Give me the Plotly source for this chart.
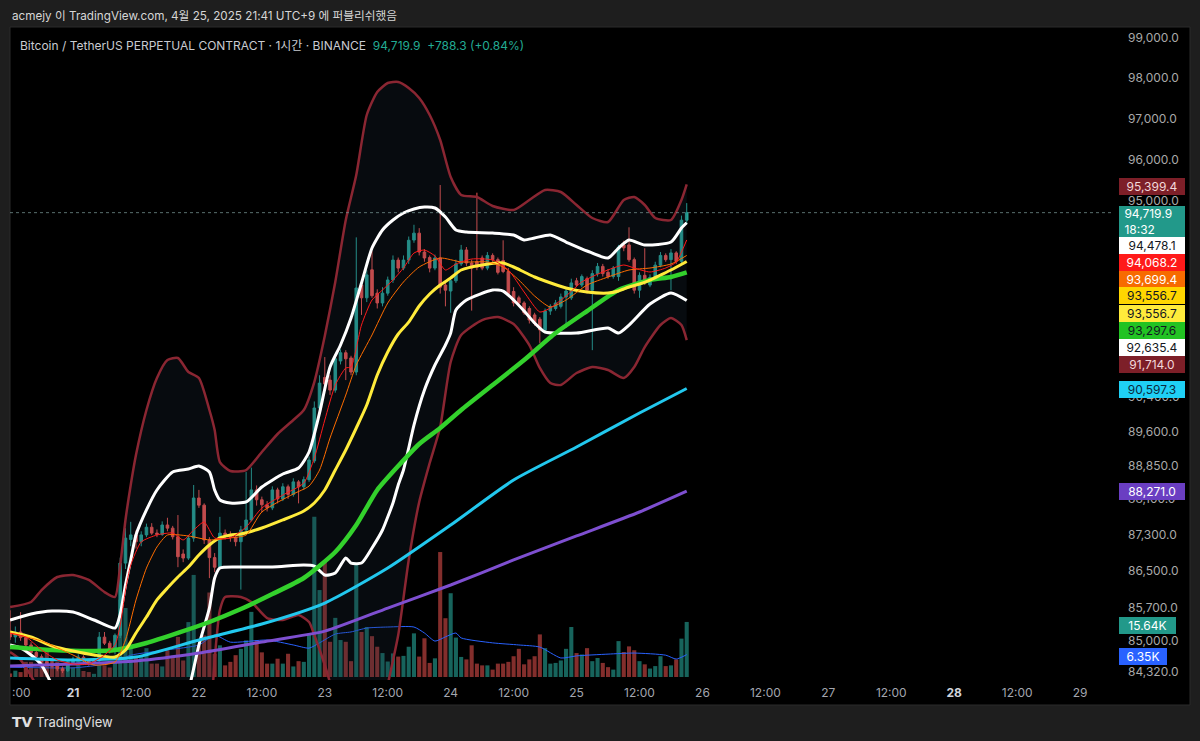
import math
import pandas as pd
import plotly.graph_objects as go

# ---------------- data ----------------
START = "2025-04-20 12:00"          # first visible hourly candle
BASE = pd.Timestamp("2025-04-21 00:00")  # hour offsets of indicator samples are relative to this

OPEN = [85180, 85075, 85180, 85060, 84900, 84740, 84650, 84540, 84500, 84450, 84390, 84350, 84520, 84600, 84640, 84560, 84500, 84560, 85070, 84940, 84760,
        85110, 86680, 87200, 87300, 87150, 87300, 87470, 87340, 87310, 87520, 87450, 87260, 86880, 86790, 87230, 88120, 87960, 87190, 86800, 86590, 87340,
        87300, 87250, 87150, 87410, 87630, 88300, 88080, 87970, 87900, 88300, 88100, 88370, 88200, 88480, 88370, 88530,
        88950, 90150, 90850, 90790, 90560, 91230, 91420, 91300, 90975, 93000, 92700, 93360, 92810, 92580, 92810, 93120, 93590, 93400, 93590, 94066,
        94230, 93780, 93650, 93400, 93640, 93000, 92860, 93100, 93500, 93830, 93520, 93550, 93640, 93400, 93700, 93600, 93580, 93320, 92850, 92700,
        92580, 92450, 92300, 92200, 91950, 92390, 92450, 92500, 92720, 92700, 93100, 93000, 93150, 92880, 93270, 93440, 93300, 93200, 93200, 93950,
        93950, 93600, 92880, 93230, 93000, 93180, 93470, 93700, 93600, 93760, 93560, 94540]
HIGH = [85650, 85300, 85610, 85130, 84960, 84800, 84700, 84600, 84560, 84500, 84440, 84560, 84650, 84700, 84680, 84600, 84600, 85180, 85180, 84990, 85150,
        86800, 87450, 87590, 87400, 87380, 87550, 87560, 87420, 87600, 87680, 87500, 87740, 86980, 87300, 88410, 88300, 88000, 87250, 86900, 87700, 87420,
        87380, 87300, 87500, 88700, 88800, 88400, 88150, 88050, 88380, 88350, 88450, 88420, 88560, 88520, 88600, 89050,
        90300, 90900, 91320, 90900, 91350, 91500, 91480, 91350, 94130, 93100, 93350, 93800, 92900, 92950, 93200, 93700, 93650, 93700, 94150, 94430,
        94350, 93850, 93700, 93720, 95385, 93100, 93200, 93600, 93950, 93900, 93600, 95200, 93700, 93780, 93750, 93650, 94060, 93400, 92950, 92750,
        92620, 92500, 92350, 92250, 92450, 92550, 92650, 92800, 92950, 93150, 93170, 93250, 93200, 93350, 93520, 93500, 93380, 93450, 93950, 94050,
        94370, 93650, 93300, 93870, 93250, 93550, 93780, 93750, 93850, 93800, 94650, 94950]
LOW = [85010, 84950, 84990, 84860, 84700, 84600, 84480, 84460, 84400, 84340, 84300, 84320, 84480, 84550, 84520, 84460, 84470, 84540, 84900, 84720, 84700,
       85050, 86550, 87050, 87000, 87050, 87250, 87300, 87250, 87280, 87380, 87200, 86590, 86700, 86750, 87150, 87900, 87100, 86350, 86480, 86550, 87200,
       87150, 87050, 86100, 87350, 87600, 87950, 87800, 87820, 87850, 88000, 88050, 88100, 88150, 88000, 88300, 88480,
       88900, 90050, 90600, 90450, 90500, 91150, 90790, 90900, 90900, 92300, 92600, 92700, 92450, 92500, 92750, 93050, 93300, 93350, 93500, 94000,
       93700, 93550, 93300, 93350, 92800, 92500, 92350, 93050, 93450, 93450, 92400, 93350, 93350, 93350, 93550, 93250, 93280, 92750, 92500, 92500,
       92300, 92100, 92050, 91640, 91900, 92300, 92400, 92450, 92000, 92650, 92950, 92950, 92800, 91480, 93200, 93200, 93150, 93150, 93100, 93800,
       93550, 92800, 92700, 93000, 92950, 93150, 93420, 93550, 92880, 93500, 93500, 94450]
CLOSE = [85075, 85180, 85060, 84900, 84740, 84650, 84540, 84500, 84450, 84390, 84350, 84520, 84600, 84640, 84560, 84500, 84560, 85070, 84940, 84760, 85110,
         86680, 87230, 87300, 87150, 87300, 87470, 87340, 87310, 87520, 87450, 87260, 86820, 86790, 87230, 88120, 87960, 87190, 86800, 86590, 87340, 87300,
         87250, 87150, 87410, 87630, 88300, 88080, 87970, 87900, 88300, 88100, 88370, 88200, 88480, 88370, 88530, 88970,
         90150, 90720, 90700, 90560, 91280, 91420, 91280, 90975, 92930, 92700, 93240, 92750, 92580, 92810, 93120, 93590, 93400, 93590, 94060, 94230,
         93780, 93640, 93400, 93640, 92950, 92880, 93100, 93500, 93830, 93520, 93400, 93420, 93400, 93700, 93600, 93300, 93320, 92800, 92580, 92580,
         92350, 92180, 92100, 91950, 92390, 92500, 92580, 92720, 92860, 93050, 93000, 93200, 92880, 93270, 93440, 93270, 93200, 93400, 93900, 93880,
         93600, 92880, 93230, 93050, 93180, 93470, 93700, 93600, 93760, 93560, 94540, 94719.9]
VOLUME_K = [1.0, 1.8, 1.4, 4.3, 4.3, 2.4, 4.7, 7.6, 4.9, 4.3, 2.7, 4.7, 2.7, 4.7, 1.7, 1.4, 0.9, 3.3, 3.3, 2.7, 4.0,
            22.0, 19.6, 9.0, 5.4, 5.7, 8.2, 3.8, 3.8, 3.0, 7.6, 5.7, 11.4, 4.7, 15.6, 29.0, 9.0, 11.8, 24.0, 6.6, 9.0, 3.3,
            4.3, 6.2, 8.0, 10.4, 18.5, 10.4, 7.0, 3.8, 3.8, 5.2, 3.8, 6.6, 3.0, 4.5, 4.3, 12.3,
            45.5, 24.7, 32.7, 10.0, 16.8, 10.5, 10.0, 4.5, 32.4, 12.8, 14.2, 11.6, 8.6, 6.8, 4.4, 6.7, 5.8, 6.0, 8.6, 12.4,
            5.8, 11.0, 4.0, 5.3, 35.5, 16.7, 23.8, 11.2,
            5.7, 5.0, 9.0, 3.8, 3.3, 3.3, 2.1, 3.8, 3.8, 4.3, 5.9, 8.0, 3.6, 5.0, 5.9, 12.1, 8.2, 3.8, 4.0, 4.7, 8.0, 14.2,
            6.8, 6.4, 8.2, 4.5, 5.4, 4.0, 2.8, 2.1, 10.2, 7.1, 8.7, 7.6, 4.5, 3.6, 2.4, 3.1, 5.9, 3.1, 3.3, 5.0, 10.9, 15.64]

# volume moving average (K)
VMA_H = [-12, 0, 5, 8, 11, 18, 24, 27, 30, 37, 42, 45, 47, 50, 53, 56, 60, 65, 67, 69, 71, 73, 74, 80, 85, 89, 93, 96, 102, 107, 113, 115, 117]
VMA = [2.8, 2.6, 3.4, 4.3, 6.2, 7.7, 9.1, 11.9, 9.9, 10.5, 9.1, 8.2, 9.7, 12.2, 12.8, 13.9, 14.2, 14.2, 12.5, 10.2, 11.4, 12.5, 11.1, 9.7, 9.1, 8.5, 5.4, 6.0, 6.5, 6.8, 6.2, 5.1, 6.35]

# outer Bollinger band (dark red)
UP3_H = [-12, -8, -6, -3, 0, 3, 6, 8, 9, 10, 11, 12, 14, 16, 18, 20, 22, 24, 26, 27, 28, 30, 33, 36, 39, 42, 44, 46, 48, 50,
         52, 54, 56, 58, 60, 62, 64, 66, 68, 70, 72, 74, 77, 80, 84, 87, 90, 93, 96, 99, 102, 105, 107, 109, 111, 114, 116, 117]
UP3 = [85720, 85830, 86090, 86375, 86419, 86310, 86046, 85939, 86637, 87631, 88410, 89084, 90105, 90837, 91252, 91298, 90976, 90837, 90105, 89650,
       88926, 88724, 88746, 89152, 89559, 89876, 90105, 90745, 91808, 93072, 94544, 95627, 97091, 97658, 97880, 97905, 97757, 97510, 97091, 96478,
       95579, 95145, 95096, 94880, 94784, 95024, 95265, 95217, 94904, 94592, 94497, 95024, 95096, 94904, 94592, 94544, 95024, 95399.4]
LO3_H = [-12, -10, -8, -4, 4, 12, 18, 24, 26, 27, 28, 29, 32, 34, 37, 40, 43, 45, 46, 48, 50, 54, 58, 60, 62, 64, 66, 68, 70, 72,
         74, 78, 81, 84, 87, 89, 91, 93, 96, 99, 102, 105, 107, 109, 112, 114, 116, 117]
LO3 = [84749, 84580, 84237, 83514, 82882, 79592, 78591, 80607, 82882, 84580, 85655, 85939, 85939, 85830, 85483, 85440, 85547, 85397, 85116, 84472,
       83727, 82464, 82882, 84047, 85116, 86748, 88031, 88904, 89718, 91206, 91831, 92180, 92250, 92087, 91599, 91068, 90722, 90677, 90952, 91091,
       91022, 90837, 91091, 91552, 92064, 92227, 92064, 91714.0]

# inner Bollinger band (white)
UP2_H = [-12, -8, -4, 0, 4, 8, 9, 10, 11, 12, 14, 16, 19, 22, 24, 26, 27, 28, 30, 33, 36, 40, 43, 45, 47, 49, 51, 53, 55, 57,
         59, 61, 63, 65, 67, 69, 71, 73, 75, 80, 84, 86, 88, 91, 94, 98, 102, 104, 106, 109, 114, 116, 117]
UP2 = [85440, 85569, 85633, 85612, 85440, 85266, 85569, 86200, 86748, 87298, 87853, 88298, 88701, 88768, 88836, 88701, 88298, 88075, 88009, 88031,
       88365, 88656, 88791, 89152, 90037, 91091, 91599, 92227, 93048, 93876, 94305, 94544, 94712, 94808, 94856, 94832, 94616, 94305, 94257, 94233,
       94186, 94067, 94115, 94186, 94019, 93805, 93639, 93876, 94067, 93948, 94019, 94353, 94478.1]
LO2_H = [-12, -10, -8, -6, -4, 0, 6, 12, 18, 22, 24, 26, 27, 28, 32, 38, 44, 46, 48, 50, 52, 53, 55, 57, 59, 60, 61, 62, 63, 64,
         65, 67, 69, 71, 72, 73, 75, 80, 82, 84, 86, 88, 90, 96, 102, 104, 106, 110, 114, 117]
LO2 = [84900, 84836, 84686, 84472, 84047, 83304, 82882, 82673, 82882, 83938, 84900, 85698, 86353, 86571, 86593, 86593, 86637, 86615, 86418, 86462,
       86792, 86681, 86681, 87012, 87408, 87697, 88009, 88410, 88746, 89242, 89763, 90562, 91137, 91599, 91878, 92414, 92649, 92884, 92860, 92649,
       92391, 92111, 91901, 91878, 91995, 91878, 92064, 92555, 92813, 92635.4]

# moving averages
RED_H = [-12, -9, -6, -3, 0, 3, 6, 8, 9, 10, 11, 13, 16, 19, 21, 23, 25, 27, 30, 33, 36, 40, 44, 46, 48, 50, 52, 53, 55, 57,
         59, 61, 63, 65, 67, 69, 71, 73, 76, 80, 83, 86, 89, 91, 94, 97, 101, 105, 107, 110, 113, 115, 117]
RED = [85157, 85073, 84792, 84580, 84494, 84494, 84686, 84900, 85331, 86090, 86637, 87145, 87298, 87342, 87189, 87408, 87586, 87233, 87233, 87475,
       87897, 88186, 88455, 89016, 89876, 90676, 91068, 91091, 92064, 92649, 92884, 93119, 93402, 93757, 93829, 93686, 93355, 93497, 93615, 93592,
       93355, 92837, 92367, 92461, 92743, 93072, 93308, 93473, 93402, 93308, 93402, 93545, 94068.2]
ORANGE_H = [-12, -6, 0, 4, 8, 10, 12, 14, 16, 18, 22, 26, 30, 33, 36, 42, 45, 47, 49, 52, 54, 57, 60, 63, 66, 70, 74, 79, 82, 85,
            88, 91, 94, 98, 102, 106, 110, 114, 117]
ORANGE = [85157, 84987, 84686, 84472, 84537, 85009, 85874, 86571, 87034, 87298, 87277, 87189, 87233, 87298, 87808, 88209, 88387, 88746, 89468, 90447,
          91137, 91832, 92578, 93072, 93426, 93639, 93545, 93545, 93426, 93119, 92743, 92484, 92649, 93001, 93190, 93355, 93402, 93497, 93699.4]
YELLOW_H = [-12, -8, -4, 0, 4, 8, 10, 12, 14, 16, 18, 20, 22, 24, 26, 28, 30, 32, 36, 40, 44, 46, 48, 50, 52, 54, 56, 58, 60, 62,
            64, 66, 68, 70, 72, 74, 78, 82, 84, 86, 88, 90, 94, 98, 102, 104, 106, 108, 110, 112, 114, 117]
YELLOW = [85180, 85073, 84879, 84770, 84686, 84643, 84792, 85159, 85504, 85874, 86134, 86375, 86593, 86857, 87078, 87233, 87298, 87320, 87453, 87631,
          87831, 88009, 88298, 88746, 89197, 89695, 90218, 90906, 91437, 91855, 92133, 92508, 92790, 93001, 93166, 93355, 93473, 93521, 93426, 93308,
          93190, 93096, 92931, 92837, 92813, 92860, 92954, 93025, 93119, 93237, 93355, 93556.7]
GREEN_H = [-12, -4, 4, 8, 14, 20, 26, 32, 38, 44, 50, 54, 58, 62, 66, 70, 74, 80, 86, 92, 98, 104, 110, 114, 117]
GREEN = [84857, 84792, 84770, 84792, 84944, 85161, 85397, 85677, 86003, 86353, 86923, 87519, 88298, 88836, 89333, 89695, 90105, 90676, 91252, 91878,
         92390, 92884, 93119, 93190, 93297.6]
CYAN_H = [-12, 0, 12, 24, 36, 48, 60, 72, 84, 96, 108, 117]
CYAN = [84622, 84580, 84643, 85009, 85353, 85808, 86571, 87519, 88522, 89264, 90037, 90597.3]
PURPLE_H = [-12, 0, 12, 24, 36, 48, 60, 72, 84, 96, 108, 117]
PURPLE = [84450, 84494, 84558, 84728, 84966, 85200, 85699, 86200, 86748, 87277, 87808, 88271.0]

PRICE_TICKS = [84320, 85000, 85700, 86500, 87300, 88100, 88850, 89600, 90400, 95000, 96000, 97000, 98000, 99000]
CHANGE = 788.3
CHANGE_PCT = 0.84
LAST_TIME = "18:32"

# ---------------- styling / layout ----------------
W, H = 1200, 741
PL, PR, PT, PB = 10, 1112, 27, 680
FONT = 'Inter, "Noto Sans CJK KR", sans-serif'
UP_C, DN_C = "#26a69a", "#ef5350"
BB3_C = "#8a2632"


def px(X):
    return (X - PL) / (PR - PL)


def py(Y):
    return (PB - Y) / (PB - PT)


def at(hours):
    return [BASE + pd.Timedelta(hours=h) for h in hours]


times = pd.date_range(START, periods=len(CLOSE), freq="h")

fig = go.Figure()

# volume (base axis, drawn underneath)
vol_colors = ["rgba(38,166,154,0.6)" if c >= o else "rgba(239,83,80,0.55)" for o, c in zip(OPEN, CLOSE)]
fig.add_trace(go.Bar(x=times, y=VOLUME_K, marker=dict(color=vol_colors, line=dict(width=0)), yaxis="y", hoverinfo="skip"))
fig.add_trace(go.Scatter(x=at(VMA_H), y=VMA, mode="lines", line=dict(color="#2962ff", width=1, shape="spline", smoothing=0.6),
                         yaxis="y", hoverinfo="skip"))

# bands
fig.add_trace(go.Scatter(x=at(LO3_H), y=LO3, mode="lines", line=dict(color=BB3_C, width=2.5, shape="spline", smoothing=0.6),
                         yaxis="y2", hoverinfo="skip"))
fig.add_trace(go.Scatter(x=at(UP3_H), y=UP3, mode="lines", line=dict(color=BB3_C, width=2.5, shape="spline", smoothing=0.6),
                         fill="tonexty", fillcolor="rgba(30,50,70,0.22)", yaxis="y2", hoverinfo="skip"))
fig.add_trace(go.Scatter(x=at(UP2_H), y=UP2, mode="lines", line=dict(color="#ffffff", width=3, shape="spline", smoothing=0.6),
                         yaxis="y2", hoverinfo="skip"))
fig.add_trace(go.Scatter(x=at(LO2_H), y=LO2, mode="lines", line=dict(color="#ffffff", width=3, shape="spline", smoothing=0.6),
                         yaxis="y2", hoverinfo="skip"))

# moving averages
for hh, vv, col, wd in [(PURPLE_H, PURPLE, "#7e4fd0", 3), (CYAN_H, CYAN, "#22c8ee", 3), (GREEN_H, GREEN, "#33d12c", 4.5),
                        (YELLOW_H, YELLOW, "#ffeb3b", 3), (ORANGE_H, ORANGE, "#ff6d00", 1), (RED_H, RED, "#ff1a1a", 1)]:
    fig.add_trace(go.Scatter(x=at(hh), y=vv, mode="lines", line=dict(color=col, width=wd, shape="spline", smoothing=0.6),
                             yaxis="y2", hoverinfo="skip"))

# current price dotted line
X_RANGE = ["2025-04-20 11:59", "2025-04-29 06:05"]
fig.add_trace(go.Scatter(x=X_RANGE, y=[CLOSE[-1], CLOSE[-1]], mode="lines",
                         line=dict(color="rgba(120,150,148,0.75)", width=1, dash="dot"), yaxis="y2", hoverinfo="skip"))

# candles
fig.add_trace(go.Candlestick(x=times, open=OPEN, high=HIGH, low=LOW, close=CLOSE, yaxis="y2", whiskerwidth=0,
                             increasing=dict(line=dict(color=UP_C, width=1), fillcolor=UP_C),
                             decreasing=dict(line=dict(color=DN_C, width=1), fillcolor=DN_C), hoverinfo="skip"))

# x ticks
tick_times = pd.date_range("2025-04-21 00:00", "2025-04-29 00:00", freq="12h")
tick_text = []
for t in tick_times:
    if t.hour == 12:
        tick_text.append("12:00")
    elif t.weekday() == 0:
        tick_text.append(f"<b><span style='color:#d1d4dc'>{t.day}</span></b>")
    else:
        tick_text.append(str(t.day))

fig.update_layout(
    width=W, height=H,
    margin=dict(l=PL, r=W - PR, t=PT, b=H - PB),
    paper_bgcolor="#1e1e1e", plot_bgcolor="#000000",
    showlegend=False, hovermode=False, bargap=0.22,
    font=dict(family=FONT, color="#b2b5be"),
    xaxis=dict(type="date", range=X_RANGE, showgrid=False, zeroline=False, showline=False,
               tickvals=tick_times, ticktext=tick_text, ticks="", tickfont=dict(size=12, color="#a3a6af", family=FONT),
               ticklabelstandoff=4, rangeslider=dict(visible=False), automargin=False),
    yaxis=dict(range=[-3 / 3.52, (PB - PT - 3) / 3.52], visible=False, showgrid=False, zeroline=False, fixedrange=True),
    yaxis2=dict(type="log", overlaying="y", side="right", range=[math.log10(84152), math.log10(99278)],
                tickvals=PRICE_TICKS, ticktext=[f"{v:,.1f}" for v in PRICE_TICKS], ticks="",
                showgrid=False, zeroline=False, showline=False, automargin=False, ticklabelstandoff=15,
                tickfont=dict(size=12, color="#a9a9a9", family=FONT)),
)

# panel background & border
fig.add_shape(type="rect", xref="paper", yref="paper", x0=px(10), x1=px(1190), y0=py(705), y1=py(27),
              fillcolor="#000000", line=dict(color="#2b2b2b", width=1), layer="below")

# price scale labels: (text, centre y in px, background, text colour, box width)
labels = [
    (f"{UP3[-1]:,.1f}", 186, "#7d1f28", "#f3d7da", 62),
    (f"{UP2[-1]:,.1f}", 245, "#ffffff", "#131722", 62),
    (f"{RED[-1]:,.1f}", 262, "#ff1a1a", "#ffffff", 62),
    (f"{ORANGE[-1]:,.1f}", 279, "#f76b00", "#ffffff", 62),
    (f"{YELLOW[-1]:,.1f}", 296, "#ffd600", "#131722", 62),
    (f"{YELLOW[-1]:,.1f}", 313, "#ffeb3b", "#131722", 62),
    (f"{GREEN[-1]:,.1f}", 330, "#22c322", "#131722", 62),
    (f"{LO2[-1]:,.1f}", 347, "#ffffff", "#131722", 62),
    (f"{LO3[-1]:,.1f}", 364, "#7d1f28", "#f3d7da", 62),
    (f"{CYAN[-1]:,.1f}", 389, "#1fd0f5", "#0b2a40", 62),
    (f"{PURPLE[-1]:,.1f}", 491, "#6a3ec2", "#ffffff", 62),
    (f"{VOLUME_K[-1]:.2f}K", 625, "#22998a", "#ffffff", 53),
    (f"{VMA[-1]:.2f}K", 656, "#2962ff", "#ffffff", 44),
]
ann = []
for txt, yc, bg, fg, wdt in labels:
    ann.append(dict(xref="paper", yref="paper", x=px(1119), y=py(yc), xanchor="left", yanchor="middle",
                    text=txt, showarrow=False, bgcolor=bg, borderpad=2, borderwidth=0, width=wdt, height=13,
                    align="center", font=dict(size=12, color=fg, family=FONT)))
# last price + countdown box
ann.append(dict(xref="paper", yref="paper", x=px(1119), y=py(221.5), xanchor="left", yanchor="middle",
                text=f"&nbsp;{CLOSE[-1]:,.1f}<br>&nbsp;{LAST_TIME}", showarrow=False, bgcolor="#22998a", borderpad=2,
                borderwidth=0, width=62, height=27, align="left", font=dict(size=12, color="#ffffff", family=FONT)))

# texts
ann.append(dict(xref="paper", yref="paper", x=px(10), y=py(16), xanchor="left", yanchor="middle", showarrow=False,
                text="acmejy 이 TradingView.com, 4월 25, 2025 21:41 UTC+9 에 퍼블리쉬했음",
                font=dict(size=11.7, color="#d6d6d6", family=FONT)))
ann.append(dict(xref="paper", yref="paper", x=px(18), y=py(45), xanchor="left", yanchor="middle", showarrow=False,
                text=("Bitcoin / TetherUS PERPETUAL CONTRACT · 1시간 · BINANCE  "
                      f"<span style='color:#22ab94'>{CLOSE[-1]:,.1f}  +{CHANGE:,.1f} (+{CHANGE_PCT:.2f}%)</span>"),
                font=dict(size=12, color="#c9cbd1", family=FONT)))
ann.append(dict(xref="paper", yref="paper", x=px(10), y=py(692), xanchor="left", yanchor="middle", showarrow=False,
                text=":00", font=dict(size=12, color="#a3a6af", family=FONT)))
ann.append(dict(xref="paper", yref="paper", x=px(10), y=py(722), xanchor="left", yanchor="middle", showarrow=False,
                text="<b>TV</b>", font=dict(size=14, color="#e0e0e0", family="DejaVu Sans")))
ann.append(dict(xref="paper", yref="paper", x=px(34), y=py(722), xanchor="left", yanchor="middle", showarrow=False,
                text="TradingView", font=dict(size=13, color="#e0e0e0", family=FONT)))
fig.update_layout(annotations=ann)

fig.write_html("out.html", config={"displayModeBar": False},
               post_script="document.body.style.margin='0px';document.body.style.overflow='hidden';")
